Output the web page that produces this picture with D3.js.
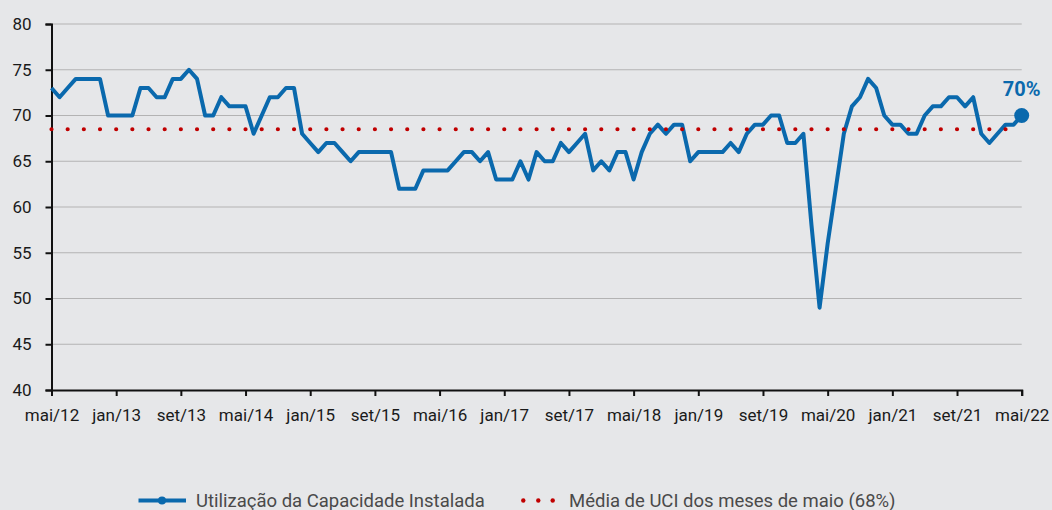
<!DOCTYPE html>
<html>
<head>
<meta charset="utf-8">
<script src="https://cdn.jsdelivr.net/npm/d3@7"></script>
<style>
  html, body { margin: 0; padding: 0; background: #e6e7e9; }
  svg { display: block; }
  text { font-family: Roboto, "Open Sans", sans-serif; }
</style>
</head>
<body>
<svg id="chart" width="1052" height="510"></svg>
<script>
// ---- data ----
const xTickLabels = ["mai/12","jan/13","set/13","mai/14","jan/15","set/15","mai/16","jan/17","set/17","mai/18","jan/19","set/19","mai/20","jan/21","set/21","mai/22"];
const yTicks = [40,45,50,55,60,65,70,75,80];
const uciValues = [
  73,72,73,74,74,74,74,70,70,70,
  70,73,73,72,72,74,74,75,74,70,
  70,72,71,71,71,68,70,72,72,73,
  73,68,67,66,67,67,66,65,66,66,
  66,66,66,62,62,62,64,64,64,64,
  65,66,66,65,66,63,63,63,65,63,
  66,65,65,67,66,67,68,64,65,64,
  66,66,63,66,68,69,68,69,69,65,
  66,66,66,66,67,66,68,69,69,70,
  70,67,67,68,58,49,56,62,68,71,
  72,74,73,70,69,69,68,68,70,71,
  71,72,72,71,72,68,67,68,69,69,
  70
];
const mediaMaio = 68.5;
const seriesNames = ["Utilização da Capacidade Instalada", "Média de UCI dos meses de maio (68%)"];
const lastLabel = "70%";

// ---- layout ----
const svg = d3.select("#chart");
const mLeft = 51.5, mRight = 1021.7, mTop = 24, mBottom = 390;
const n = uciValues.length;
const x = d3.scaleLinear().domain([0, n - 1]).range([mLeft, mRight]);
const y = d3.scaleLinear().domain([40, 80]).range([mBottom, mTop]);
const blue = "#0a69ad", red = "#c00000";

// gridlines
svg.append("g").selectAll("line")
  .data(yTicks.filter(v => v > 40))
  .join("line")
  .attr("x1", mLeft).attr("x2", mRight)
  .attr("y1", d => y(d)).attr("y2", d => y(d))
  .attr("stroke", "#b3b3b3").attr("stroke-width", 1.2);

// y axis
const yAxis = svg.append("g").attr("transform", `translate(${mLeft},0)`)
  .call(d3.axisLeft(y).tickValues(yTicks).tickSize(6).tickPadding(14).tickFormat(d3.format("d")));
yAxis.select(".domain").attr("stroke", "#111").attr("stroke-width", 2);
yAxis.selectAll(".tick line").attr("stroke", "#111").attr("stroke-width", 2);
yAxis.selectAll("text").attr("font-size", 17).attr("fill", "#1a1a1a");

// x axis
const tickIdx = xTickLabels.map((_, i) => i * 8);
const xAxis = svg.append("g").attr("transform", `translate(0,${mBottom})`)
  .call(d3.axisBottom(x).tickValues(tickIdx).tickSize(6).tickPadding(13)
    .tickFormat((d, i) => xTickLabels[i]));
xAxis.select(".domain").attr("stroke", "#111").attr("stroke-width", 2);
xAxis.selectAll(".tick line").attr("stroke", "#111").attr("stroke-width", 2);
xAxis.selectAll("text").attr("font-size", 17).attr("fill", "#1a1a1a");

// UCI line
const line = d3.line().x((d, i) => x(i)).y(d => y(d));
svg.append("path").datum(uciValues)
  .attr("d", line)
  .attr("fill", "none").attr("stroke", blue).attr("stroke-width", 4)
  .attr("stroke-linejoin", "round");

// mean line (dotted)
const step = x(2) - x(0);
svg.append("path").datum([0, n - 1])
  .attr("d", d3.line().x(d => x(d)).y(() => y(mediaMaio)))
  .attr("fill", "none").attr("stroke", red).attr("stroke-width", 4.2)
  .attr("stroke-linecap", "round")
  .attr("stroke-dasharray", `0 ${step}`);

// end marker + label
svg.append("circle")
  .attr("cx", x(n - 1)).attr("cy", y(uciValues[n - 1])).attr("r", 7.5)
  .attr("fill", blue);
svg.append("text")
  .attr("x", x(n - 1)).attr("y", y(uciValues[n - 1]) - 20)
  .attr("text-anchor", "middle").attr("font-size", 20).attr("font-weight", "bold")
  .attr("fill", blue).text(lastLabel);

// legend
const lg = svg.append("g");
lg.append("line").attr("x1", 138.5).attr("x2", 186).attr("y1", 500.5).attr("y2", 500.5)
  .attr("stroke", blue).attr("stroke-width", 4);
lg.append("circle").attr("cx", 162).attr("cy", 500.5).attr("r", 4).attr("fill", blue);
lg.append("text").attr("x", 196).attr("y", 506.5).attr("font-size", 18.5).attr("fill", "#4a4a4a")
  .text(seriesNames[0]);
lg.selectAll("circle.d").data([523.3, 538.3, 552.7]).join("circle").attr("class", "d")
  .attr("cx", d => d).attr("cy", 500.5).attr("r", 2.2).attr("fill", red);
lg.append("text").attr("x", 569).attr("y", 506.5).attr("font-size", 18.5).attr("fill", "#4a4a4a")
  .text(seriesNames[1]);
</script>
</body>
</html>
